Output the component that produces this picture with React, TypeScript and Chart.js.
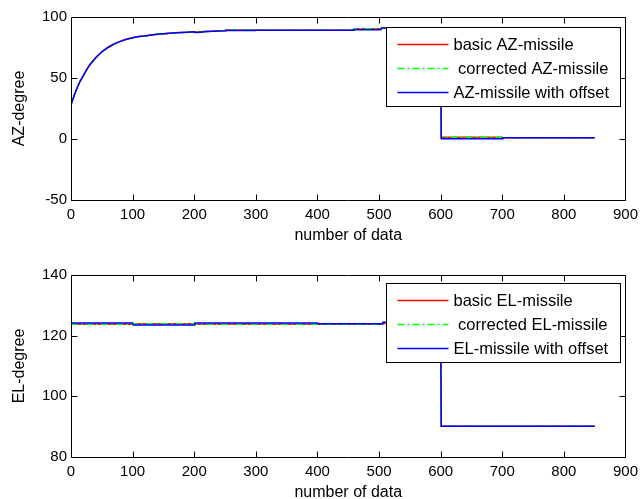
import React, { useEffect, useRef } from 'react';
import { Chart, registerables } from 'chart.js';

Chart.register(...registerables);

// ---------- data ----------
const xTicks = [0, 100, 200, 300, 400, 500, 600, 700, 800, 900];
const azTicks = [-50, 0, 50, 100];
const elTicks = [80, 100, 120, 140];

const azX = [0, 5, 10, 15, 20, 25, 30, 35, 40, 45, 50, 60, 70, 80, 90, 100, 110, 120, 130, 140, 150, 160, 170, 180, 190, 198, 202, 206, 210, 220, 230, 240, 250,
  251, 300, 301, 458, 459, 503, 504, 600, 601, 700, 701, 850];
const azBasic = [28, 35.5, 42, 47.5, 52, 56.5, 60.5, 63.5, 66.5, 69, 71.5, 75, 78, 80, 81.7, 83, 84, 84.5, 85.2, 85.8, 86.2, 86.6, 87, 87.3, 87.6, 87.9, 88, 88, 88, 88.2, 88.4, 88.6, 88.8,
  89.4, 89.4, 89.2, 89.2, 90.4, 90.4, 91, 91, 1.4, 1.4, 1.1, 1.1];
const azCorrected = [28, 35.5, 42, 47.5, 52, 56.5, 60.5, 63.5, 66.5, 69, 71.5, 75, 78, 80, 81.7, 83, 84, 84.5, 85.2, 85.8, 86.2, 86.6, 87, 87.3, 87.6, 87.9, 88, 88, 88, 88.2, 88.4, 88.6, 88.8,
  89.4, 89.4, 89.2, 89.2, 90.4, 90.4, 91, 91, 1.4, 1.4, 1.1, 1.1];
const azOffset = [28, 35.5, 42, 47.5, 52, 56.5, 60.5, 63.5, 66.5, 69, 71.5, 75, 78, 80, 81.7, 83, 84, 84.5, 85.2, 85.8, 86.2, 86.6, 87, 87.3, 87.6, 87.9, 87.3, 87.3, 87.5, 88.2, 88.4, 88.6, 88.8,
  89.0, 89.0, 89.2, 89.2, 89.6, 89.6, 91, 91, 0.2, 0.2, 1.1, 1.1];

const elX = [0, 100, 101, 200, 201, 400, 401, 505, 506, 600, 601, 850];
const elBasic = [123.8, 123.8, 123.9, 123.9, 123.8, 123.8, 123.8, 123.8, 124.0, 124.0, 90.1, 90.1];
const elCorrected = [123.8, 123.8, 123.9, 123.9, 123.8, 123.8, 123.8, 123.8, 124.0, 124.0, 90.1, 90.1];
const elOffset = [124.2, 124.2, 123.5, 123.5, 124.2, 124.2, 123.9, 123.9, 124.4, 124.4, 90.1, 90.1];

const azLegend = ['basic AZ-missile', ' corrected AZ-missile', 'AZ-missile with offset'];
const elLegend = ['basic EL-missile', ' corrected EL-missile', 'EL-missile with offset'];

// ---------- styling ----------
const FONT = "'Liberation Sans', Arial, sans-serif";
const RED = '#ff0000';
const GREEN = '#00ff00';
const BLUE = '#0000ff';
const DASHDOT = [7, 3, 2, 3];

const pts = (xs: number[], ys: number[]) => xs.map((x, i) => ({ x, y: ys[i] }));

function makeFramePlugin(yTicks: number[], labels: string[], legendTopOffset: number) {
  return {
    id: 'frameLegend',
    afterDraw(chart: any) {
      const { ctx, chartArea: a, scales } = chart;
      const L = Math.round(a.left) + 0.5;
      const R = Math.round(a.right) + 0.5;
      const T = Math.round(a.top) + 0.5;
      const B = Math.round(a.bottom) + 0.5;
      ctx.save();
      ctx.strokeStyle = '#000';
      ctx.lineWidth = 1;
      ctx.setLineDash([]);
      ctx.beginPath();
      ctx.rect(L, T, R - L, B - T);
      ctx.stroke();
      const tl = 6;
      ctx.beginPath();
      xTicks.forEach((v) => {
        const px = Math.round(scales.x.getPixelForValue(v)) + 0.5;
        ctx.moveTo(px, B); ctx.lineTo(px, B - tl);
        ctx.moveTo(px, T); ctx.lineTo(px, T + tl);
      });
      yTicks.forEach((v) => {
        const py = Math.round(scales.y.getPixelForValue(v)) + 0.5;
        ctx.moveTo(L, py); ctx.lineTo(L + tl, py);
        ctx.moveTo(R, py); ctx.lineTo(R - tl, py);
      });
      ctx.stroke();

      // legend box
      const bw = 234, bh = 79;
      const bx = Math.round(a.right - 5 - bw) + 0.5;
      const by = Math.round(a.top + legendTopOffset) + 0.5;
      ctx.fillStyle = '#fff';
      ctx.fillRect(bx, by, bw, bh);
      ctx.strokeStyle = '#000';
      ctx.strokeRect(bx, by, bw, bh);
      const colors = [RED, GREEN, BLUE];
      const dashes = [[], DASHDOT, []];
      ctx.font = `16.5px ${FONT}`;
      ctx.textBaseline = 'middle';
      ctx.textAlign = 'left';
      labels.forEach((t, i) => {
        const ry = Math.round(by + 16 + i * 24.3) + 0.5;
        ctx.strokeStyle = colors[i];
        ctx.lineWidth = 1.3;
        ctx.setLineDash(dashes[i]);
        ctx.beginPath();
        ctx.moveTo(bx + 11, ry);
        ctx.lineTo(bx + 62, ry);
        ctx.stroke();
        ctx.setLineDash([]);
        ctx.fillStyle = '#000';
        ctx.fillText(t, bx + 67, ry + 1);
      });
      ctx.restore();
    },
  };
}

function makeConfig(opts: {
  xs: number[]; basic: number[]; corrected: number[]; offset: number[];
  yMin: number; yMax: number; yTicks: number[]; yTitle: string; labels: string[];
  padTop: number; xAxisH: number; xTitlePad: number; legendTop: number;
}) {
  const { xs, basic, corrected, offset, yMin, yMax, yTicks, yTitle, labels, padTop, xAxisH, xTitlePad, legendTop } = opts;
  return {
    type: 'line' as const,
    data: {
      datasets: [
        { label: labels[0], data: pts(xs, basic), borderColor: RED, borderWidth: 1.5, order: 3 },
        { label: labels[1], data: pts(xs, corrected), borderColor: GREEN, borderWidth: 1.5, borderDash: DASHDOT, order: 2 },
        { label: labels[2], data: pts(xs, offset), borderColor: BLUE, borderWidth: 1.5, order: 1 },
      ],
    },
    options: {
      animation: false as const,
      responsive: false,
      maintainAspectRatio: false,
      devicePixelRatio: 1,
      parsing: false as const,
      layout: { padding: { top: padTop, right: 14, left: 0, bottom: 0 } },
      elements: { point: { radius: 0 }, line: { tension: 0, fill: false } },
      plugins: { legend: { display: false }, tooltip: { enabled: false } },
      scales: {
        x: {
          type: 'linear' as const,
          min: 0,
          max: 900,
          grid: { display: false, drawTicks: false },
          border: { display: false },
          afterBuildTicks: (s: any) => { s.ticks = xTicks.map((v) => ({ value: v })); },
          ticks: { font: { family: FONT, size: 15 }, color: '#000', padding: 6, maxRotation: 0, autoSkip: false },
          title: { display: true, text: 'number of data', font: { family: FONT, size: 16, lineHeight: 1 }, color: '#000', padding: { top: 0, bottom: xTitlePad } },
          afterFit: (s: any) => { s.height = xAxisH; },
        },
        y: {
          type: 'linear' as const,
          min: yMin,
          max: yMax,
          grid: { display: false, drawTicks: false },
          border: { display: false },
          afterBuildTicks: (s: any) => { s.ticks = yTicks.map((v) => ({ value: v })); },
          ticks: { font: { family: FONT, size: 15 }, color: '#000', padding: 4 },
          title: { display: true, text: yTitle, font: { family: FONT, size: 16, lineHeight: 1 }, color: '#000', padding: { top: 12, bottom: 0 } },
          afterFit: (s: any) => { s.width = 71; },
        },
      },
    },
    plugins: [makeFramePlugin(yTicks, labels, legendTop)],
  };
}

export default function App() {
  const topRef = useRef<HTMLCanvasElement>(null);
  const botRef = useRef<HTMLCanvasElement>(null);

  useEffect(() => {
    const c1 = new Chart(topRef.current as HTMLCanvasElement, makeConfig({
      xs: azX, basic: azBasic, corrected: azCorrected, offset: azOffset,
      yMin: -50, yMax: 100, yTicks: azTicks, yTitle: 'AZ-degree', labels: azLegend,
      padTop: 17, xAxisH: 50, xTitlePad: 6, legendTop: 10,
    }) as any);
    const c2 = new Chart(botRef.current as HTMLCanvasElement, makeConfig({
      xs: elX, basic: elBasic, corrected: elCorrected, offset: elOffset,
      yMin: 80, yMax: 140, yTicks: elTicks, yTitle: 'EL-degree', labels: elLegend,
      padTop: 25, xAxisH: 42, xTitlePad: -2, legendTop: 8,
    }) as any);
    return () => { c1.destroy(); c2.destroy(); };
  }, []);

  return (
    <div style={{ position: 'absolute', left: 0, top: 0, width: 644, height: 499, overflow: 'hidden', background: '#fff' }}>
      <canvas ref={topRef} width={644} height={250} style={{ position: 'absolute', left: 0, top: 0, width: 644, height: 250 }} />
      <canvas ref={botRef} width={644} height={249} style={{ position: 'absolute', left: 0, top: 250, width: 644, height: 249 }} />
    </div>
  );
}
